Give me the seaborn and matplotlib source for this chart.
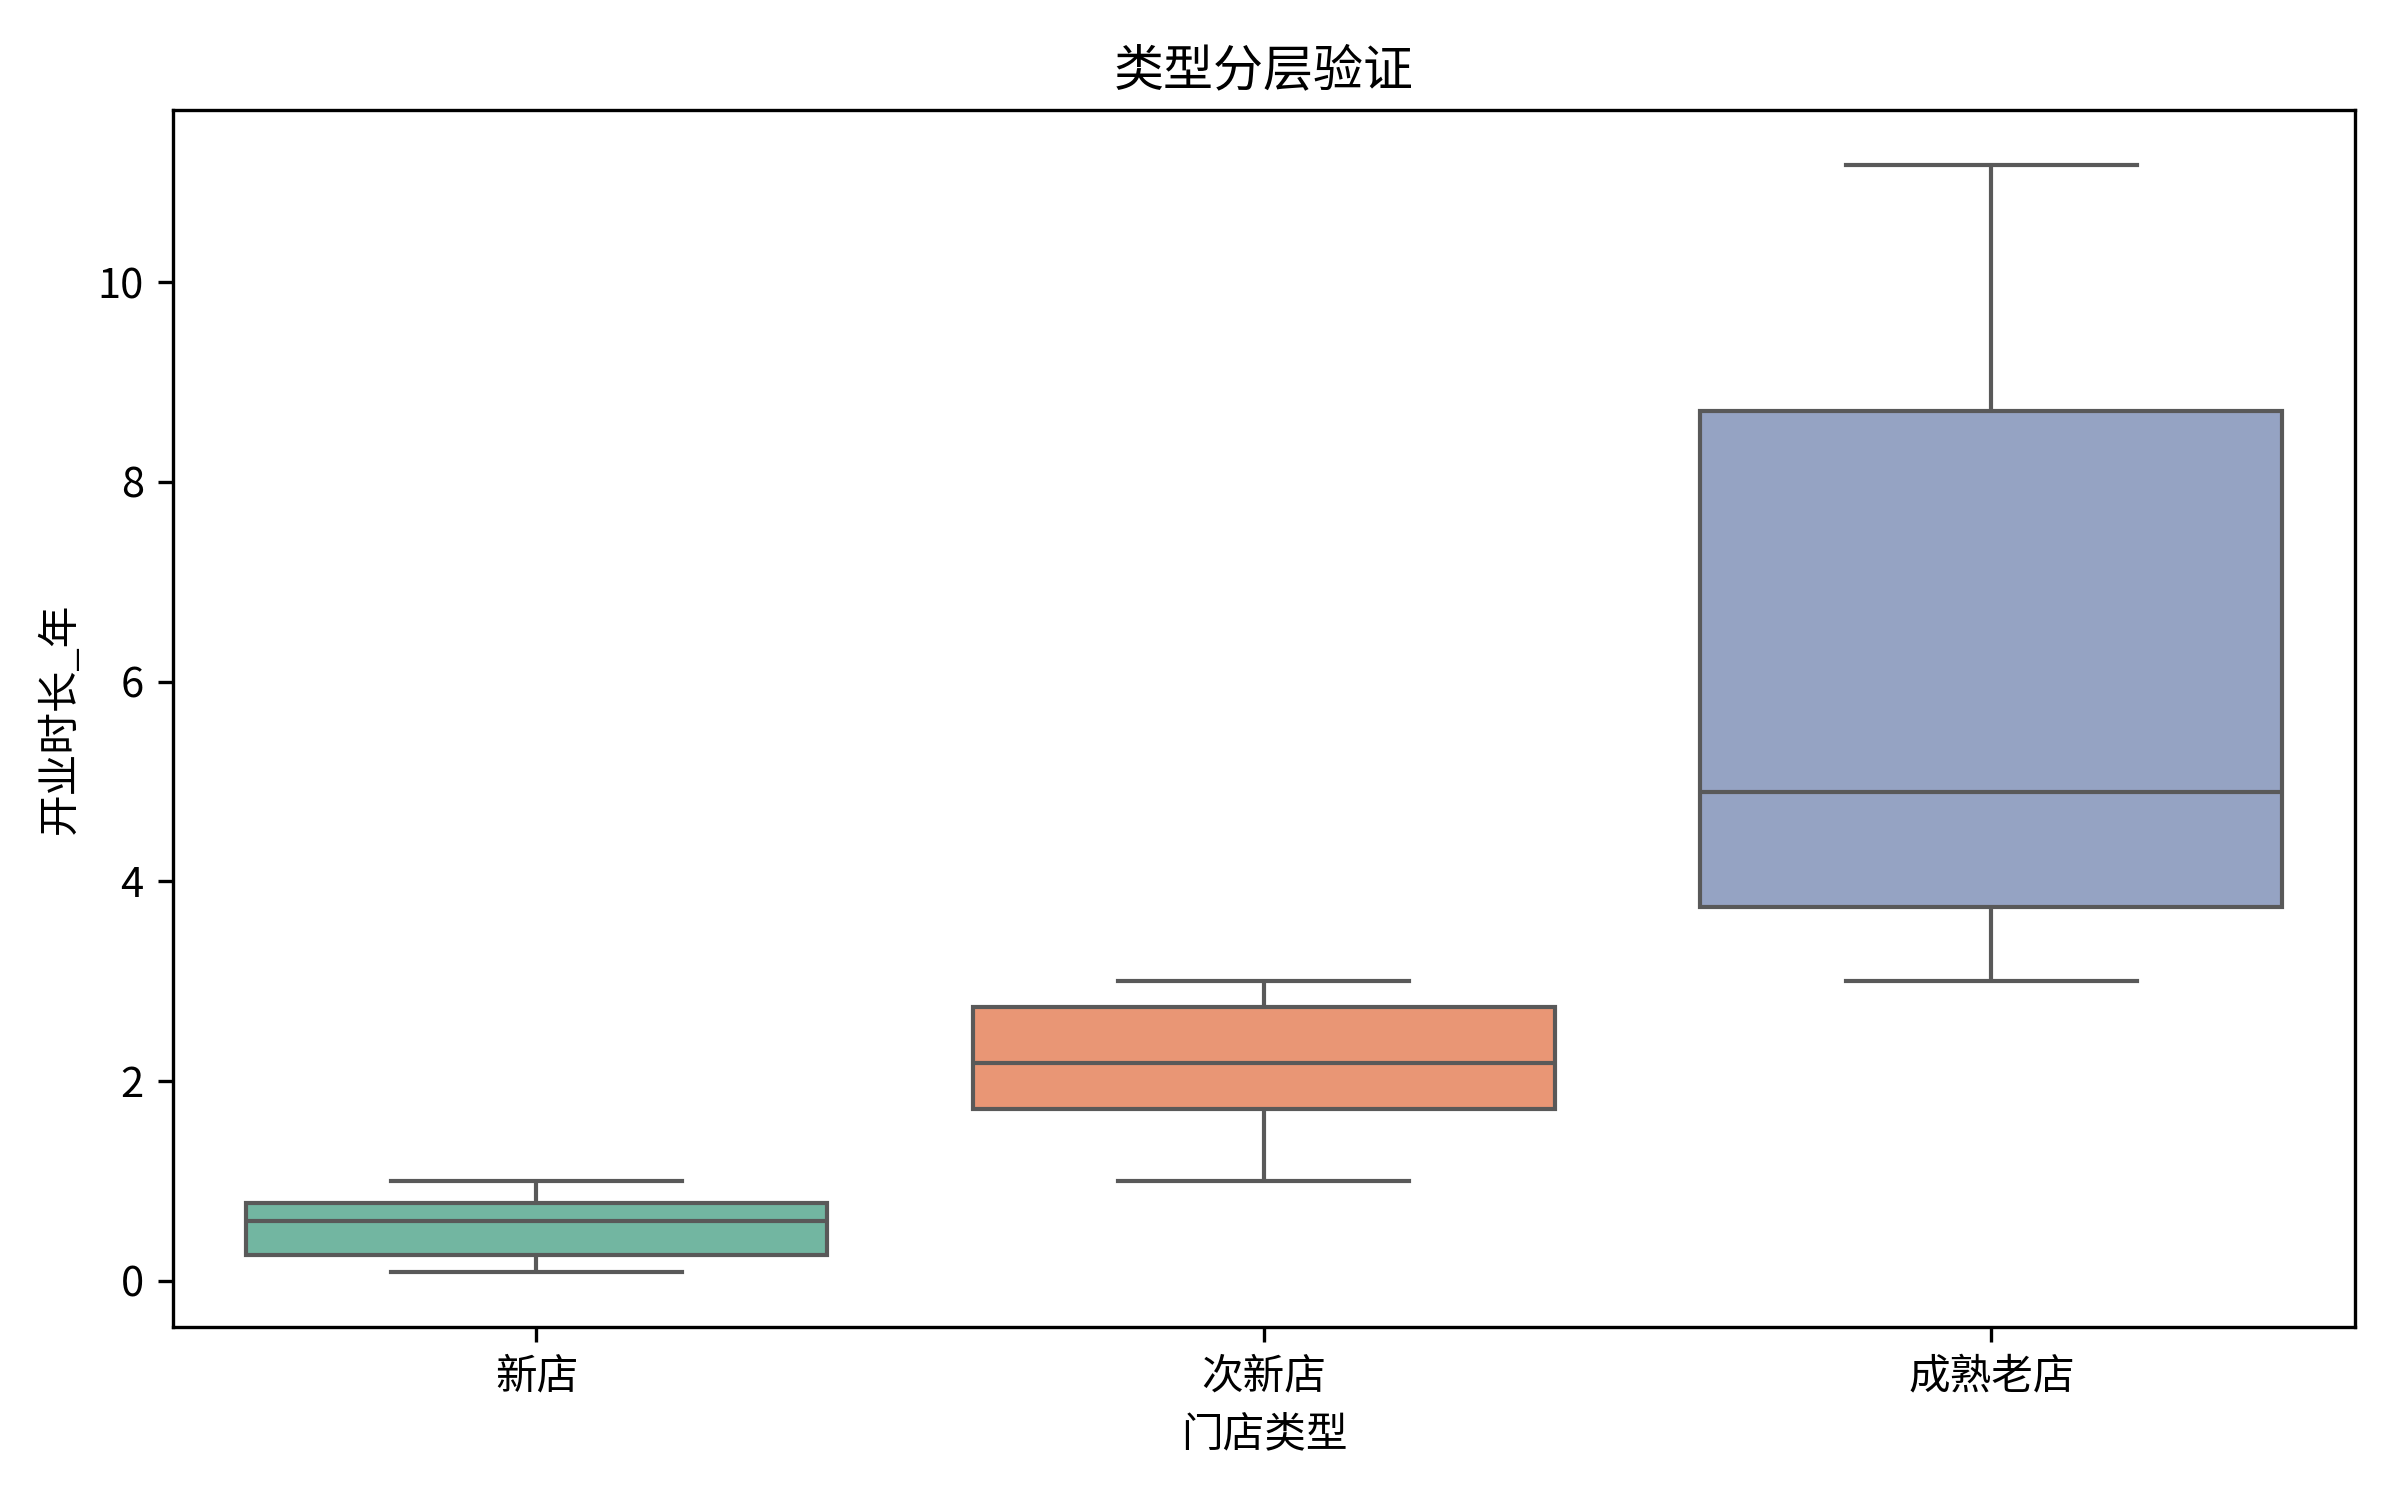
import matplotlib
matplotlib.use("Agg")
import matplotlib.pyplot as plt
import seaborn as sns
import pandas as pd

plt.rcParams['font.family'] = ['Noto Sans CJK SC', 'DejaVu Sans']
plt.rcParams['axes.unicode_minus'] = False

categories = ['新店', '次新店', '成熟老店']
# five-number summaries: min, q1, median, q3, max
new_store = [0.09, 0.26, 0.60, 0.78, 1.00]
sub_new_store = [1.00, 1.72, 2.18, 2.74, 3.00]
mature_store = [3.00, 3.74, 4.89, 8.71, 11.17]

values = new_store + sub_new_store + mature_store
labels = ([categories[0]] * len(new_store) + [categories[1]] * len(sub_new_store)
          + [categories[2]] * len(mature_store))
df = pd.DataFrame({'门店类型': labels, '开业时长_年': values})

fig, ax = plt.subplots(figsize=(8, 5), dpi=300)
sns.boxplot(data=df, x='门店类型', y='开业时长_年', hue='门店类型',
            order=categories, hue_order=categories, palette='Set2',
            legend=False, ax=ax)
ax.set_title('类型分层验证')
fig.tight_layout()
fig.subplots_adjust(left=0.072)
fig.savefig('out.png', dpi=300)
